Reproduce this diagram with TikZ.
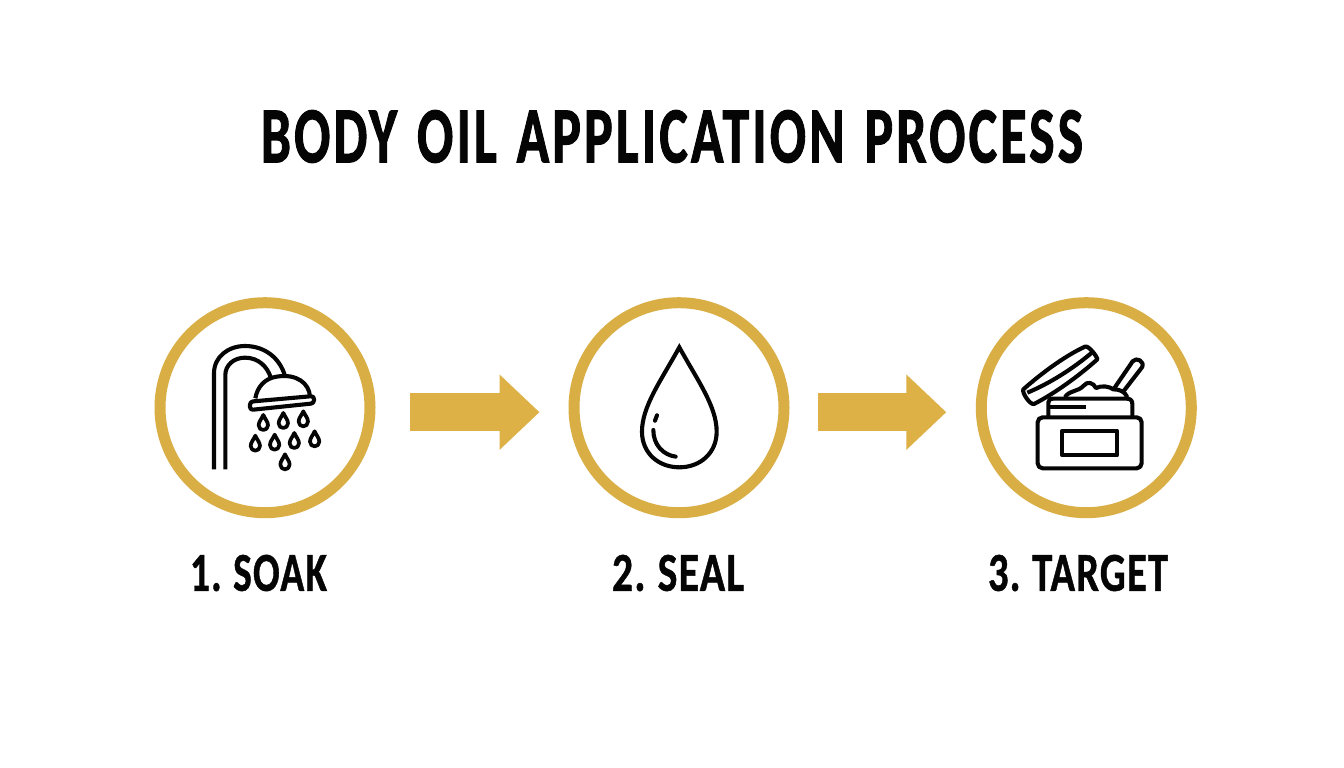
\documentclass[tikz,border=0pt]{standalone}
\usepackage{graphicx}
\usepackage{fontspec}
\setmainfont{Carlito}
\newfontfamily\headfont[FakeBold=1.6,LetterSpace=6,WordSpace=1.3]{Carlito}
\newfontfamily\capfont[FakeBold=1.0,LetterSpace=3,WordSpace=0.8]{Carlito}
\usetikzlibrary{arrows.meta}
\definecolor{gold}{HTML}{D9AE45}
\definecolor{goldfill}{HTML}{DDB145}
\definecolor{inkblack}{HTML}{050505}
\tikzset{
  ring/.style={circle,draw=gold,line width=11pt,minimum size=210pt,inner sep=0pt,outer sep=0pt},
  flow/.style={draw=goldfill,line width=38pt,-{Triangle[length=40pt,width=73pt,fill=goldfill,color=goldfill]}},
  caption/.style={text=inkblack,inner sep=0pt,anchor=center},
  icon/.style={draw=inkblack,line width=4.1pt,line join=round,line cap=butt},
  zoomA/.style={shift={(#1,290)},x=0.3333pt,y=-0.3333pt},
}
\newcommand{\minidrop}[2]{%
  \draw[icon,line width=3.7pt] (#1,#2-23) .. controls (#1+5,#2-11) and (#1+14,#2-3) .. (#1+14,#2+8)
    .. controls (#1+14,#2+17) and (#1+7,#2+22) .. (#1,#2+22)
    .. controls (#1-7,#2+22) and (#1-14,#2+17) .. (#1-14,#2+8)
    .. controls (#1-14,#2-3) and (#1-5,#2-11) .. (#1,#2-23) -- cycle;}
\begin{document}
\begin{tikzpicture}[x=1pt,y=-1pt]
\useasboundingbox (0,0) rectangle (1344,768);
\fill[white] (0,0) rectangle (1344,768);

\node[caption] (title) at (672,136.5) {\resizebox{822pt}{52pt}{\headfont\bfseries BODY OIL APPLICATION PROCESS}};

\node[ring] (c1) at (265,407.7) {};
\node[ring] (c2) at (679,407.7) {};
\node[ring] (c3) at (1086.3,407.7) {};

\draw[flow] ([xshift=40pt,yshift=-4.5pt]c1.east) -- ([xshift=-34.5pt,yshift=-4.5pt]c2.west);
\draw[flow] ([xshift=34pt,yshift=-4.5pt]c2.east) -- ([xshift=-35pt,yshift=-4.5pt]c3.west);

\node[caption] (l1) at (258.5,573) {\resizebox{137pt}{36pt}{\capfont\bfseries 1. SOAK}};
\node[caption] (l2) at (678,573) {\resizebox{132pt}{36pt}{\capfont\bfseries 2. SEAL}};
\node[caption] (l3) at (1078,573) {\resizebox{180pt}{36pt}{\capfont\bfseries 3. TARGET}};

% shower
\begin{scope}[zoomA=150]
  \draw[icon] (192,538) -- (192,250) .. controls (192,200) and (235,168) .. (285,168)
     .. controls (345,168) and (390,205) .. (405,258);
  \draw[icon] (226,538) -- (226,255) .. controls (226,225) and (252,203) .. (285,203)
     .. controls (325,203) and (352,230) .. (362,262);
  \draw[icon] (316,325) .. controls (322,290) and (345,265) .. (380,260)
     .. controls (440,250) and (478,280) .. (480,320);
  \draw[icon,rounded corners=3pt] (300,335) -- (492,318) -- (492,340) -- (300,360) -- cycle;
  \minidrop{340}{398}\minidrop{400}{392}\minidrop{460}{387}
  \minidrop{316}{460}\minidrop{374}{457}\minidrop{433}{452}\minidrop{494}{447}
  \minidrop{405}{516}
\end{scope}

% oil drop
\begin{scope}[zoomA=560]
  \draw[icon,line join=miter] (358,172) .. controls (415,275) and (470,350) .. (470,425)
     .. controls (470,490) and (420,532) .. (358,532)
     .. controls (296,532) and (246,490) .. (246,425)
     .. controls (246,350) and (301,275) .. (358,172) -- cycle;
  \draw[icon,line cap=round] (291,376) -- (285,392);
  \draw[icon,line cap=round] (280,420) .. controls (280,465) and (310,495) .. (347,500);
\end{scope}

% jar
\begin{scope}[zoomA=970]
  \draw[icon,fill=white] (432,296) -- (488,214) .. controls (498,200) and (526,214) .. (516,232) -- (462,302);
  \draw[icon,fill=white] (285,322) .. controls (295,302) and (325,305) .. (340,288)
     .. controls (352,272) and (370,278) .. (378,294)
     .. controls (395,285) and (420,290) .. (430,298)
     .. controls (450,298) and (465,305) .. (472,322);
  \draw[icon] (235,378) -- (235,338) .. controls (235,330) and (240,326) .. (250,326)
     -- (470,326) .. controls (482,326) and (487,332) .. (487,342) -- (487,378);
  \draw[icon] (240,352) -- (347,352);
  \draw[icon,fill=white] (160,298) .. controls (220,245) and (290,195) .. (345,170)
     .. controls (355,165) and (382,200) .. (382,208)
     .. controls (330,255) and (255,310) .. (192,342)
     .. controls (180,345) and (155,308) .. (160,298) -- cycle;
  \draw[icon] (172,308) .. controls (240,280) and (310,235) .. (368,186);
  \draw[icon,fill=white,rounded corners=5pt] (203,382) rectangle (515,535);
  \draw[icon] (277,422) rectangle (441,496);
\end{scope}
\end{tikzpicture}
\end{document}
